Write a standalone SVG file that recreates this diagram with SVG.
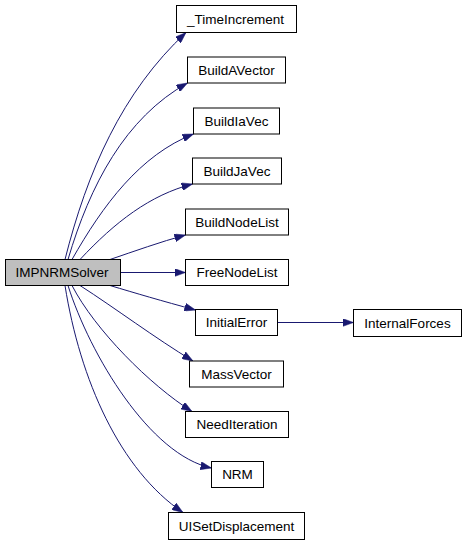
<svg xmlns="http://www.w3.org/2000/svg" width="467" height="544" viewBox="0 0 467 544">
<style>
.node rect{fill:#ffffff;stroke:#000000;stroke-width:1}
.node.root rect{fill:#bfbfbf}
.node text{font-family:"Liberation Sans",Arial,sans-serif;font-size:13.5px;fill:#000000;text-anchor:middle}
.edges path{fill:none;stroke:#191970;stroke-width:1;marker-end:url(#arr)}
</style>
<defs>
<marker id="arr" viewBox="0 0 11 8" refX="11" refY="4" markerWidth="11" markerHeight="8" markerUnits="userSpaceOnUse" orient="auto">
<path d="M0,0 L11,4 L0,8 z" fill="#191970" stroke="#191970" stroke-width="0.5"/>
</marker>
</defs>
<rect x="0" y="0" width="467" height="544" fill="#ffffff"/>
<g class="edges">
<path d="M65,259.5 C87,172 122,92 186,32.5"/>
<path d="M68,259.5 C90,185 125,118 187.5,83"/>
<path d="M72,259.5 C103,205 140,155 193.5,134"/>
<path d="M80,259.5 C115,222 150,195 192.5,184"/>
<path d="M110,259.5 C135,251 160,242 185.5,235"/>
<path d="M120.5,272.5 L185.5,272.5"/>
<path d="M110,285.5 C135,293 162,301 195.5,310"/>
<path d="M80,285.5 C115,308 155,338 193,361"/>
<path d="M72,285.5 C95,330 150,385 192,411.5"/>
<path d="M68,285.5 C90,355 150,455 211.5,468"/>
<path d="M65,285.5 C80,380 120,470 183,512.5"/>
<path d="M277.5,322.5 L353.5,322.5"/>
</g>
<g id="IMPNRMSolver" class="node root"><rect x="5.5" y="259.5" width="115" height="26"/><text x="62" y="277.4">IMPNRMSolver</text></g>
<g id="TimeIncrement" class="node"><rect x="176.5" y="5.5" width="120" height="27"/><text x="235.5" y="23.9">_TimeIncrement</text></g>
<g id="BuildAVector" class="node"><rect x="187.5" y="57" width="98" height="26"/><text x="236.5" y="74.9">BuildAVector</text></g>
<g id="BuildIaVec" class="node"><rect x="193.5" y="108" width="86" height="26"/><text x="236.5" y="125.9">BuildIaVec</text></g>
<g id="BuildJaVec" class="node"><rect x="192.5" y="158" width="89" height="26"/><text x="237" y="175.9">BuildJaVec</text></g>
<g id="BuildNodeList" class="node"><rect x="185.5" y="209" width="103" height="26"/><text x="237" y="226.9">BuildNodeList</text></g>
<g id="FreeNodeList" class="node"><rect x="185.5" y="259.5" width="103" height="26"/><text x="237" y="277.4">FreeNodeList</text></g>
<g id="InitialError" class="node"><rect x="195.5" y="309.5" width="82" height="26"/><text x="236.5" y="327.4">InitialError</text></g>
<g id="InternalForces" class="node"><rect x="353.5" y="309.5" width="108" height="27"/><text x="407.5" y="327.9">InternalForces</text></g>
<g id="MassVector" class="node"><rect x="189.5" y="361" width="94" height="26"/><text x="236.5" y="378.9">MassVector</text></g>
<g id="NeedIteration" class="node"><rect x="185.5" y="411.5" width="103" height="26"/><text x="237" y="429.4">NeedIteration</text></g>
<g id="NRM" class="node"><rect x="211.5" y="461.5" width="52" height="26"/><text x="237.5" y="479.4">NRM</text></g>
<g id="UISetDisplacement" class="node"><rect x="168.5" y="512.5" width="136" height="27"/><text x="236.5" y="530.9">UISetDisplacement</text></g>
</svg>
